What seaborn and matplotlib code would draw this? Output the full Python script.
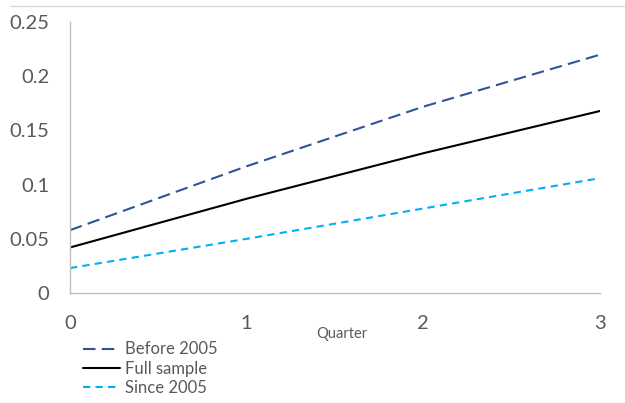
import matplotlib
matplotlib.use("Agg")
import matplotlib.pyplot as plt
import pandas as pd
import seaborn as sns

# datos
quarter = [0, 1, 2, 3]
before_2005 = [0.058, 0.117, 0.172, 0.220]
full_sample = [0.042, 0.087, 0.129, 0.168]
since_2005 = [0.023, 0.050, 0.078, 0.106]
series_names = ["Before 2005", "Full sample", "Since 2005"]

df = pd.DataFrame({
    "Quarter": quarter * 3,
    "value": before_2005 + full_sample + since_2005,
    "serie": [series_names[0]] * 4 + [series_names[1]] * 4 + [series_names[2]] * 4,
})

sns.set_style("white")
plt.rcParams["font.family"] = ["Lato", "DejaVu Sans"]

fig = plt.figure(figsize=(6.25, 4.03), dpi=100)
ax = fig.add_axes([0.112, 0.273, 0.848, 0.672])

colores = {"Before 2005": "#2F5597", "Full sample": "#000000", "Since 2005": "#00B0F0"}
guiones = {"Before 2005": (6, 3), "Full sample": "", "Since 2005": (3.5, 2.5)}
sns.lineplot(data=df, x="Quarter", y="value", hue="serie", style="serie",
             palette=colores, dashes=guiones, linewidth=1.5, ax=ax, legend=False)

ax.set_xlim(0, 3)
ax.set_ylim(0, 0.25)
ax.set_xticks(quarter)
ax.set_yticks([0, 0.05, 0.1, 0.15, 0.2, 0.25])
ax.set_yticklabels(["0", "0.05", "0.1", "0.15", "0.2", "0.25"])
ax.tick_params(axis="both", length=0, labelsize=14.5, labelcolor="#595959")
ax.tick_params(axis="x", pad=16)
ax.tick_params(axis="y", pad=15)
ax.set_xlabel("")
ax.set_ylabel("")
for s in ["top", "right"]:
    ax.spines[s].set_visible(False)
for s in ["left", "bottom"]:
    ax.spines[s].set_color("#BFBFBF")
    ax.spines[s].set_linewidth(1)

fig.text(0.547, 0.171, "Quarter", fontsize=10.5, color="#595959", ha="center", va="center")

# leyenda abajo a la izquierda
handles = ax.get_lines()[:3]
leg = fig.legend(handles, series_names, loc="upper left", bbox_to_anchor=(0.133, 0.153),
                 frameon=False, fontsize=12, handlelength=2.2, handletextpad=0.3,
                 labelspacing=0.2, borderaxespad=0, borderpad=0)
for t in leg.get_texts():
    t.set_color("#595959")

# linea gris superior
fig.add_artist(plt.Line2D([0.016, 1.0], [0.985, 0.985], color="#D9D9D9", linewidth=1))

fig.savefig("out.png", dpi=100)
